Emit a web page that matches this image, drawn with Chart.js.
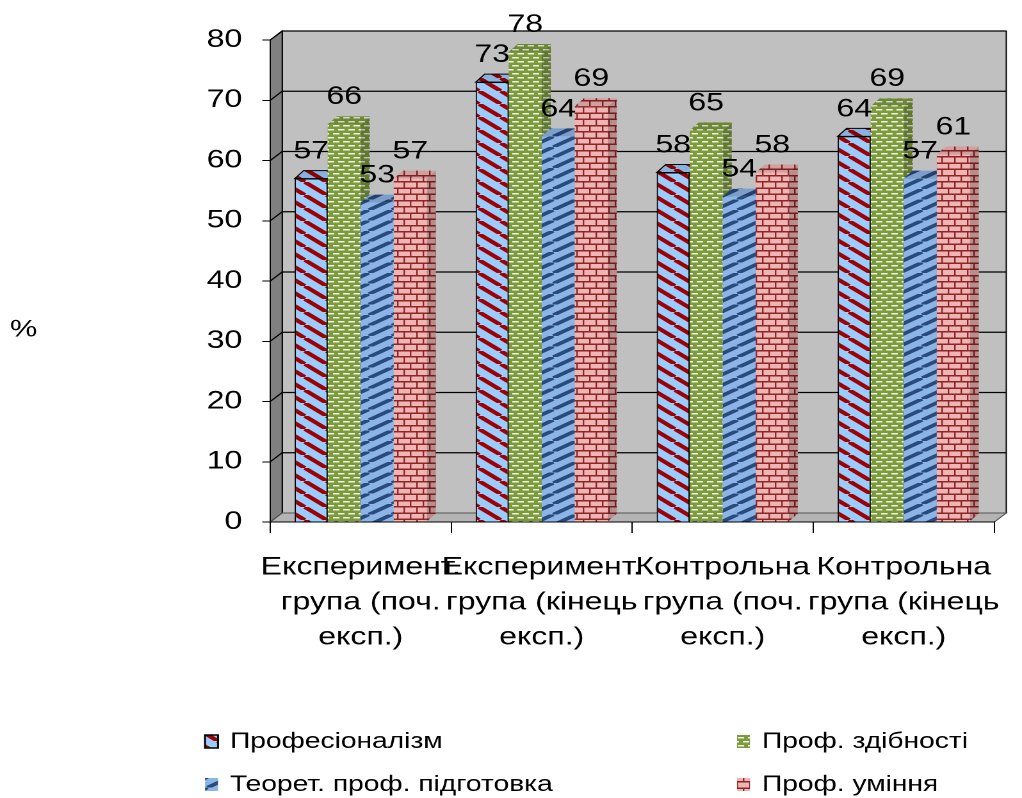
<!DOCTYPE html>
<html>
<head>
<meta charset="utf-8">
<script src="https://cdn.jsdelivr.net/npm/chart.js@4.4.1/dist/chart.umd.min.js"></script>
<style>
  html, body { margin: 0; padding: 0; background: #fff; overflow: hidden; }
  /* the source picture is stretched sideways, so the whole chart is too */
  #wrap { position: absolute; left: 0; top: 0; width: 798px; height: 798px;
          transform: scaleX(1.2807); transform-origin: 0 0; }
</style>
</head>
<body>
<div id="wrap"><canvas id="bars"></canvas></div>
<script>
const groups = [
  ["Експеримент.", "група (поч.", "експ.)"],
  ["Експеримент.", "група (кінець", "експ.)"],
  ["Контрольна", "група (поч.", "експ.)"],
  ["Контрольна", "група (кінець", "експ.)"]
];
const seriesNames = ["Професіоналізм", "Проф. здібності", "Теорет. проф. підготовка", "Проф. уміння"];
const profValues    = [57, 73, 58, 64];
const abilityValues = [66, 78, 65, 69];
const theoryValues  = [53, 64, 54, 57];
const skillValues   = [57, 69, 58, 61];
const yMax = 80;
const yStep = 10;

const S = 1.2807;           // horizontal stretch
const FONT = "'Liberation Sans', Arial, sans-serif";
const WALL_DX = 12 / S, WALL_DY = -9;   // depth of the walls
const BAR_DX = 9 / S, BAR_DY = -8;      // depth of each bar

// --- fill patterns (like the old excel hatches) ---
// tiles are painted at 2x and shrunk back, the chart renders at devicePixelRatio 2
function makePattern(w, h, paint) {
  const c = document.createElement('canvas');
  c.width = w; c.height = h;
  paint(c.getContext('2d'), w, h);
  const p = c.getContext('2d').createPattern(c, 'repeat');
  p.setTransform(new DOMMatrix([0.5, 0, 0, 0.5, 0, 0]));
  return p;
}
const diagDown = makePattern(34, 26, (g, w, h) => {
  g.fillStyle = '#99ccff'; g.fillRect(0, 0, w, h);
  g.strokeStyle = '#a00000'; g.lineWidth = 7.5;
  for (const x0 of [-w, 0, w]) { g.beginPath(); g.moveTo(x0, 0); g.lineTo(x0 + w, h); g.stroke(); }
});
const dashes = makePattern(16, 16, (g, w, h) => {
  g.fillStyle = '#7b9b3c'; g.fillRect(0, 0, w, h);
  g.fillStyle = '#eef3e2';
  g.fillRect(0, 2, 10, 3);
  g.fillRect(8, 10, 8, 3); g.fillRect(0, 10, 2, 3);
});
const diagUp = makePattern(36, 21, (g, w, h) => {
  g.fillStyle = '#8db4e6'; g.fillRect(0, 0, w, h);
  g.strokeStyle = '#284b7c'; g.lineWidth = 7;
  for (const x0 of [-w, 0, w]) { g.beginPath(); g.moveTo(x0, h); g.lineTo(x0 + w, 0); g.stroke(); }
});
const bricks = makePattern(20, 25, (g, w, h) => {
  g.fillStyle = '#efb5b4'; g.fillRect(0, 0, w, h);
  g.fillStyle = '#8e2626';
  g.fillRect(0, 0, w, 3); g.fillRect(0, 12, w, 3);
  g.fillRect(0, 0, 2.4, 12); g.fillRect(10, 12, 2.4, 13);
});

function poly(ctx, pts, fill, stroke) {
  ctx.beginPath();
  ctx.moveTo(pts[0][0], pts[0][1]);
  for (let i = 1; i < pts.length; i++) ctx.lineTo(pts[i][0], pts[i][1]);
  ctx.closePath();
  if (fill) { ctx.fillStyle = fill; ctx.fill(); }
  if (stroke) { ctx.strokeStyle = stroke; ctx.lineWidth = 1; ctx.stroke(); }
}

// walls, floor and gridlines behind everything
const wallsPlugin = {
  id: 'walls',
  beforeDraw(chart) {
    const ctx = chart.ctx;
    const { left, right, top, bottom } = chart.chartArea;
    const y = chart.scales.y;
    ctx.save();
    poly(ctx, [[left + WALL_DX, top + WALL_DY], [right + WALL_DX, top + WALL_DY],
               [right + WALL_DX, bottom + WALL_DY], [left + WALL_DX, bottom + WALL_DY]], '#c0c0c0', '#000');
    poly(ctx, [[left, top], [left + WALL_DX, top + WALL_DY], [left + WALL_DX, bottom + WALL_DY], [left, bottom]], '#808080', '#000');
    poly(ctx, [[left, bottom], [right, bottom], [right + WALL_DX, bottom + WALL_DY], [left + WALL_DX, bottom + WALL_DY]], '#b4b4b4', '#555');
    ctx.strokeStyle = '#000';
    ctx.lineWidth = 1.2;
    for (let v = yStep; v <= yMax; v += yStep) {
      const py = y.getPixelForValue(v);
      ctx.beginPath();
      ctx.moveTo(left, py);
      ctx.lineTo(left + WALL_DX, py + WALL_DY);
      ctx.lineTo(right + WALL_DX, py + WALL_DY);
      ctx.stroke();
    }
    ctx.restore();
  }
};

// 3d bars: side + top faces, then the front drawn by the element itself
const bars3dPlugin = {
  id: 'bars3d',
  beforeDatasetDraw() { return false; },
  afterDatasetsDraw(chart) {
    const ctx = chart.ctx;
    const metas = chart.getSortedVisibleDatasetMetas();
    ctx.save();
    for (let i = 0; i < groups.length; i++) {
      for (const meta of metas) {
        const el = meta.data[i];
        const ds = chart.data.datasets[meta.index];
        const { x, y, base, width } = el.getProps(['x', 'y', 'base', 'width'], true);
        const l = x - width / 2, r = x + width / 2;
        const edge = ds.faceEdge || null;
        poly(ctx, [[r, y], [r + BAR_DX, y + BAR_DY], [r + BAR_DX, base + BAR_DY], [r, base]], ds.backgroundColor);
        poly(ctx, [[r, y], [r + BAR_DX, y + BAR_DY], [r + BAR_DX, base + BAR_DY], [r, base]], 'rgba(0,0,0,0.22)', edge);
        poly(ctx, [[l, y], [r, y], [r + BAR_DX, y + BAR_DY], [l + BAR_DX, y + BAR_DY]], ds.backgroundColor);
        poly(ctx, [[l, y], [r, y], [r + BAR_DX, y + BAR_DY], [l + BAR_DX, y + BAR_DY]], 'rgba(0,0,0,0.12)', edge);
        el.draw(ctx);
      }
    }
    // value labels
    ctx.fillStyle = '#000';
    ctx.font = '25px ' + FONT;
    ctx.textAlign = 'center';
    ctx.textBaseline = 'middle';
    for (const meta of metas) {
      const vals = chart.data.datasets[meta.index].data;
      meta.data.forEach((el, i) => {
        ctx.fillText(String(vals[i]), el.x, el.y - 27);
      });
    }
    ctx.restore();
  },
  afterDraw(chart) {
    const ctx = chart.ctx;
    ctx.save();
    ctx.fillStyle = '#000';
    ctx.font = '24px ' + FONT;
    ctx.textAlign = 'left';
    ctx.textBaseline = 'middle';
    ctx.fillText('%', 10 / S, 330);
    // legend in two columns
    const spots = [[205, 741], [737, 741], [205, 784], [737, 784]];
    ctx.font = '22px ' + FONT;
    chart.data.datasets.forEach((ds, k) => {
      const sx = spots[k][0] / S, sy = spots[k][1];
      ctx.fillStyle = ds.backgroundColor;
      ctx.fillRect(sx, sy - 6, 13 / S, 13);
      if (k === 0) { ctx.strokeStyle = '#000'; ctx.lineWidth = 1.5; ctx.strokeRect(sx, sy - 6, 13 / S, 13); }
      ctx.fillStyle = '#000';
      ctx.fillText(ds.label, sx + 25 / S, sy + 1);
    });
    ctx.restore();
  }
};

new Chart(document.getElementById('bars'), {
  type: 'bar',
  data: {
    labels: groups,
    datasets: [
      { label: seriesNames[0], data: profValues,    backgroundColor: diagDown, borderColor: '#000', borderWidth: 1, faceEdge: '#000' },
      { label: seriesNames[1], data: abilityValues, backgroundColor: dashes,   borderWidth: 0 },
      { label: seriesNames[2], data: theoryValues,  backgroundColor: diagUp,   borderWidth: 0 },
      { label: seriesNames[3], data: skillValues,   backgroundColor: bricks,   borderWidth: 0 }
    ]
  },
  options: {
    responsive: true,
    maintainAspectRatio: false,
    animation: false,
    devicePixelRatio: 2,
    categoryPercentage: 0.73,
    barPercentage: 1.0,
    layout: { padding: { top: 40, right: 4.7, bottom: 0, left: 0 } },
    plugins: { legend: { display: false }, tooltip: { enabled: false } },
    scales: {
      x: {
        grid: { display: true, drawOnChartArea: false, offset: true, tickLength: 11, color: '#000' },
        border: { color: '#000' },
        ticks: { autoSkip: false, maxRotation: 0, minRotation: 0, padding: 17, color: '#000',
                 font: { family: FONT, size: 25, lineHeight: 1.4 } },
        afterFit(scale) { scale.height = 276; }
      },
      y: {
        min: 0, max: yMax,
        grid: { drawOnChartArea: false, tickLength: 8 / S, color: '#000' },
        border: { color: '#000' },
        ticks: { stepSize: yStep, padding: 20 / S, color: '#000', font: { family: FONT, size: 25 } },
        afterFit(scale) { scale.width = 211; }
      }
    }
  },
  plugins: [wallsPlugin, bars3dPlugin]
});
</script>
</body>
</html>
